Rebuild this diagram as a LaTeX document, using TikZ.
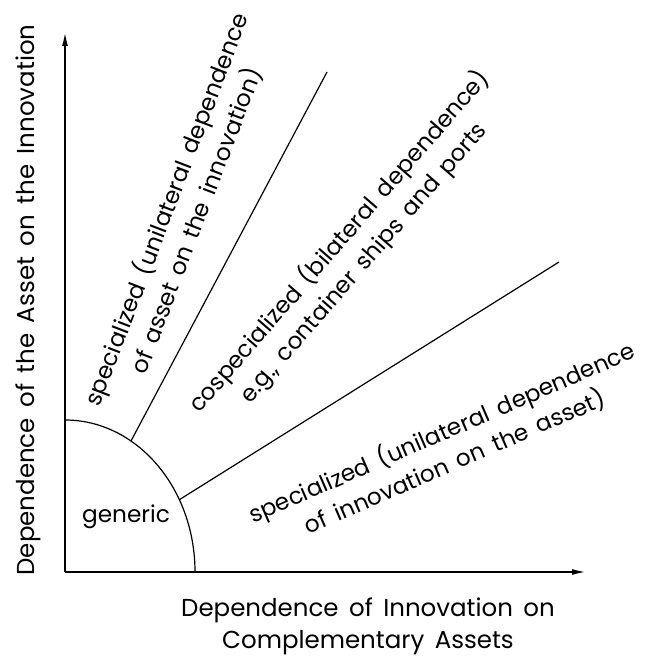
\documentclass[tikz,border=0pt]{standalone}
\usepackage{fontspec}
\setmainfont{Poppins}[WordSpace=1.6]
\usepackage{tikz}
\usetikzlibrary{positioning, arrows.meta}
\tikzstyle{zone} = [align=center, inner sep=0pt]

\begin{document}
\begin{tikzpicture}[
    x=1pt, y=1pt,
    line width=1.2pt,
    axis/.style={-{Latex[length=13pt, width=6pt]}},
    every node/.style={font=\fontsize{23.2}{32}\selectfont},
    axislabel/.style={zone, font=\fontsize{24.5}{32}\selectfont}
]
    \useasboundingbox (-65,-86) rectangle (584,572);
    \coordinate (O) at (0,0);
    \coordinate (ytop) at (0,539);
    \coordinate (xend) at (520,0);
    \coordinate (atop) at (0,152);
    \coordinate (g1) at (59.5:130 and 152);
    \coordinate (g2) at (28.4:130 and 152);
    \coordinate (e1) at (262,500);
    \coordinate (e2) at (494,310);
    \draw[axis] (O) -- (ytop);
    \draw[axis] (O) -- (xend);
    \draw (atop) arc[start angle=90, end angle=0, x radius=130, y radius=152];
    \draw (g1) -- (e1);
    \draw (g2) -- (e2);
    \node (generic) at (61,55) {generic};
    \node[zone, rotate=69] (asset) at (116,357)
        {specialized (unilateral dependence\\of asset on the innovation)};
    \node[zone, rotate=49] (cospec) at (286,320)
        {cospecialized (bilateral dependence)\\e.g., container ships and ports};
    \node[zone, rotate=23.5] (innov) at (383,125)
        {specialized (unilateral dependence\\of innovation on the asset)};
    \node[axislabel, rotate=90] (ylabel) at (-37,272)
        {Dependence of the Asset on the Innovation};
    \node[axislabel] (xlabel) at (303,-54)
        {Dependence of Innovation on\\Complementary Assets};
\end{tikzpicture}
\end{document}
